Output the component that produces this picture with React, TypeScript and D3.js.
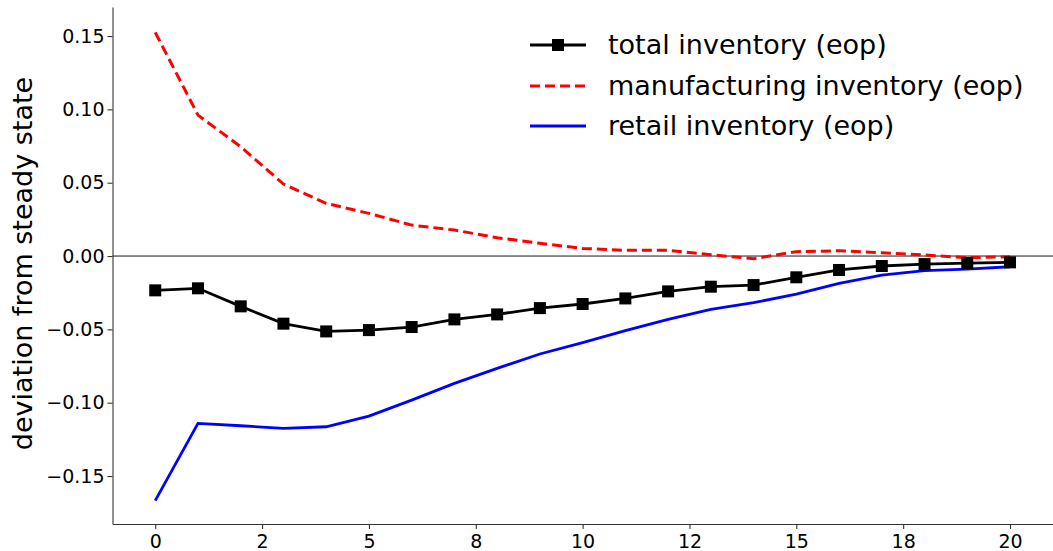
import React, { useEffect, useRef } from "react";
import * as d3 from "d3";

const periods: number[] = d3.range(0, 21);
const totalInventory: number[] = [
  -0.0234, -0.022, -0.0343, -0.0461, -0.0514, -0.0505, -0.0484, -0.0432, -0.0398, -0.0355,
  -0.0327, -0.0289, -0.0241, -0.0209, -0.0198, -0.0145, -0.0095, -0.0068, -0.0055, -0.0048, -0.0043,
];
const manufacturingInventory: number[] = [
  0.1525, 0.0961, 0.0745, 0.0491, 0.0359, 0.0291, 0.0211, 0.0177, 0.0125, 0.0087,
  0.0052, 0.0039, 0.0039, 0.0009, -0.0018, 0.003, 0.0036, 0.0023, 0.0007, -0.0011, -0.0005,
];
const retailInventory: number[] = [
  -0.1668, -0.1141, -0.1157, -0.1175, -0.1164, -0.1091, -0.0982, -0.0868, -0.0766, -0.0668,
  -0.0591, -0.0509, -0.0432, -0.0364, -0.0318, -0.0259, -0.0186, -0.013, -0.01, -0.0089, -0.0073,
];
const xTicks: number[] = [0, 2.5, 5, 7.5, 10, 12.5, 15, 17.5, 20];
const xTickLabels: string[] = ["0", "2", "5", "8", "10", "12", "15", "18", "20"];
const yTicks: number[] = [-0.15, -0.1, -0.05, 0, 0.05, 0.1, 0.15];
const seriesLabels: string[] = [
  "total inventory (eop)",
  "manufacturing inventory (eop)",
  "retail inventory (eop)",
];
const yLabel = "deviation from steady state";

const W = 1053;
const H = 551;
const FONT = "DejaVu Sans, sans-serif";

export default function App() {
  const ref = useRef<SVGSVGElement | null>(null);

  useEffect(() => {
    const svg = d3.select(ref.current);
    svg.selectAll("*").remove();

    const left = 112.5;
    const right = 1052.75;
    const top = 7;
    const bottom = 524;

    const x = d3.scaleLinear().domain([-1, 21]).range([left, right]);
    const y = d3.scaleLinear().domain([-0.1827, 0.1698]).range([bottom, top]);

    svg
      .append("line")
      .attr("x1", left)
      .attr("x2", W)
      .attr("y1", y(0))
      .attr("y2", y(0))
      .attr("stroke", "#000")
      .attr("stroke-width", 0.9);

    const line = d3
      .line<number>()
      .x((_, i) => x(periods[i]))
      .y((d) => y(d));

    svg
      .append("path")
      .attr("d", line(manufacturingInventory) as string)
      .attr("fill", "none")
      .attr("stroke", "#ff0000")
      .attr("stroke-width", 3)
      .attr("stroke-dasharray", "10,5");

    svg
      .append("path")
      .attr("d", line(retailInventory) as string)
      .attr("fill", "none")
      .attr("stroke", "#0000ff")
      .attr("stroke-width", 2.8);

    svg
      .append("path")
      .attr("d", line(totalInventory) as string)
      .attr("fill", "none")
      .attr("stroke", "#000")
      .attr("stroke-width", 2.8);

    const ms = 12;
    svg
      .selectAll("rect.m")
      .data(totalInventory)
      .enter()
      .append("rect")
      .attr("class", "m")
      .attr("x", (_, i) => x(periods[i]) - ms / 2)
      .attr("y", (d) => y(d) - ms / 2)
      .attr("width", ms)
      .attr("height", ms)
      .attr("fill", "#000");

    const xAxis = d3
      .axisBottom(x)
      .tickValues(xTicks)
      .tickFormat((_, i) => xTickLabels[i])
      .tickSize(5)
      .tickSizeOuter(0);
    const gx = svg.append("g").attr("transform", `translate(0,${bottom})`).call(xAxis);
    gx.select(".domain").attr("stroke", "#333").attr("stroke-width", 1.1);
    gx.selectAll(".tick line").attr("stroke", "#333").attr("stroke-width", 1.1);
    gx.selectAll(".tick text")
      .attr("font-family", FONT)
      .attr("font-size", 19)
      .attr("fill", "#000")
      .attr("dy", "0.95em")
      .attr("y", 6);

    const yAxis = d3
      .axisLeft(y)
      .tickValues(yTicks)
      .tickFormat((d) => {
        const v = d as number;
        const s = Math.abs(v).toFixed(2);
        return v < -1e-9 ? "\u2212" + s : s;
      })
      .tickSize(5)
      .tickSizeOuter(0);
    const gy = svg.append("g").attr("transform", `translate(${left},0)`).call(yAxis);
    gy.select(".domain").attr("stroke", "#333").attr("stroke-width", 1.1);
    gy.selectAll(".tick line").attr("stroke", "#333").attr("stroke-width", 1.1);
    gy.selectAll(".tick text")
      .attr("font-family", FONT)
      .attr("font-size", 19)
      .attr("fill", "#000")
      .attr("x", -8);

    svg
      .append("text")
      .attr("transform", `translate(23,${(top + bottom) / 2 - 2}) rotate(-90)`)
      .attr("text-anchor", "middle")
      .attr("dy", "0.35em")
      .attr("font-family", FONT)
      .attr("font-size", 27)
      .attr("fill", "#000")
      .text(yLabel);

    const lg = svg.append("g");
    const rowsY = [45, 86, 126];
    const lx0 = 530;
    const lx1 = 586;
    lg.append("line")
      .attr("x1", lx0).attr("x2", lx1).attr("y1", rowsY[0]).attr("y2", rowsY[0])
      .attr("stroke", "#000").attr("stroke-width", 2.8);
    lg.append("rect")
      .attr("x", (lx0 + lx1) / 2 - ms / 2).attr("y", rowsY[0] - ms / 2)
      .attr("width", ms).attr("height", ms).attr("fill", "#000");
    lg.append("line")
      .attr("x1", lx0).attr("x2", lx1).attr("y1", rowsY[1]).attr("y2", rowsY[1])
      .attr("stroke", "#ff0000").attr("stroke-width", 3).attr("stroke-dasharray", "10,5");
    lg.append("line")
      .attr("x1", lx0).attr("x2", lx1).attr("y1", rowsY[2]).attr("y2", rowsY[2])
      .attr("stroke", "#0000ff").attr("stroke-width", 2.8);
    seriesLabels.forEach((t, i) => {
      lg.append("text")
        .attr("x", 608)
        .attr("y", rowsY[i])
        .attr("dy", "0.35em")
        .attr("font-family", FONT)
        .attr("font-size", 27)
        .attr("fill", "#000")
        .text(t);
    });
  }, []);

  return (
    <svg
      ref={ref}
      width={W}
      height={H}
      style={{ position: "absolute", left: 0, top: 0, background: "#fff" }}
    />
  );
}
